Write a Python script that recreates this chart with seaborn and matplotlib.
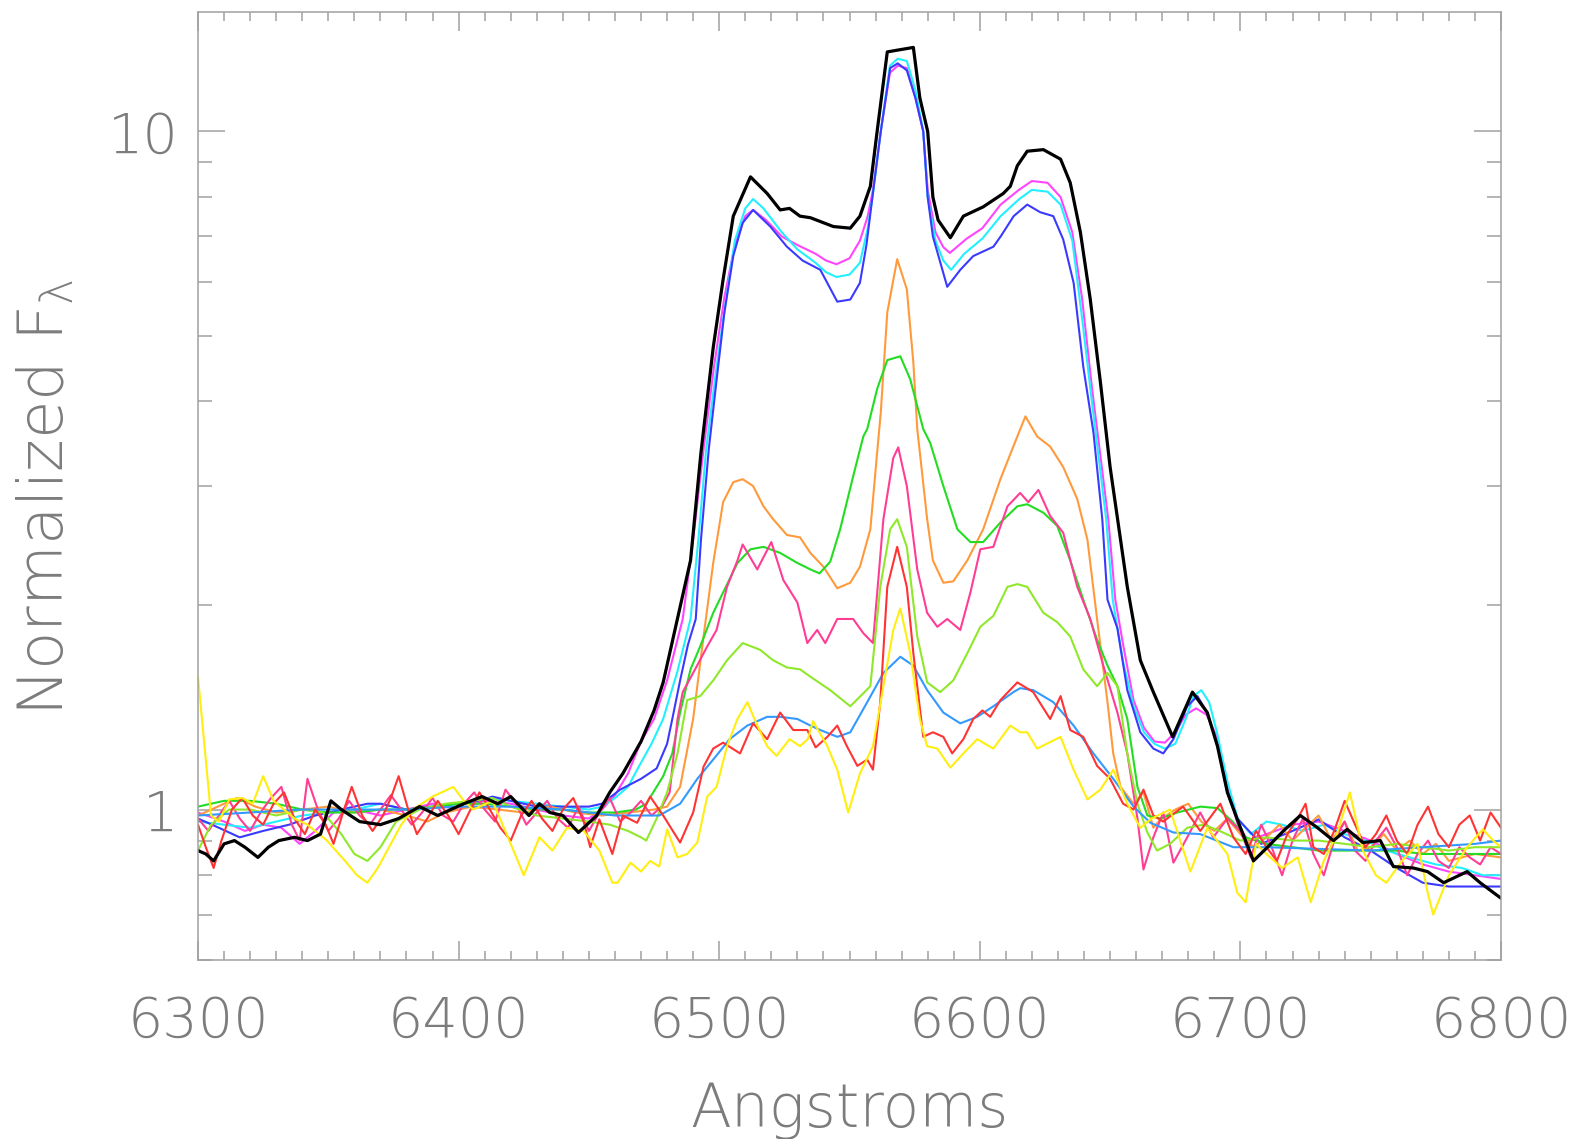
import matplotlib
matplotlib.use("Agg")
import matplotlib.pyplot as plt
import seaborn as sns
from matplotlib.ticker import FixedLocator, FixedFormatter, MultipleLocator, NullFormatter

# Normalized H-alpha region spectra: (wavelength [A], normalized flux)
black_pts = [(6300, 0.87), (6303, 0.86), (6306, 0.84), (6310, 0.89), (6314, 0.90), (6318, 0.88), (6323, 0.85),
             (6327, 0.88), (6331, 0.90), (6337, 0.91), (6342, 0.90), (6347, 0.92), (6351, 1.03), (6355, 1.00),
             (6362, 0.96), (6370, 0.95), (6377, 0.97), (6385, 1.01), (6392, 0.98), (6397, 1.00), (6402, 1.02),
             (6409, 1.045), (6415, 1.02), (6420, 1.045), (6427, 0.98), (6431, 1.02), (6435, 0.99), (6440, 0.98),
             (6446, 0.925), (6453, 0.98), (6458, 1.06), (6463, 1.13), (6470, 1.26), (6475, 1.40), (6478.5, 1.54),
             (6485, 1.99), (6489, 2.33), (6493, 3.36), (6497.7, 4.8), (6501.5, 6.05), (6505.4, 7.5), (6512, 8.57),
             (6518.4, 8.1), (6523.4, 7.66), (6527, 7.7), (6531, 7.5), (6535, 7.46), (6543.8, 7.24), (6550.3, 7.2),
             (6554, 7.5), (6558, 8.3), (6560.6, 10.0), (6564.5, 13.1), (6569.5, 13.2), (6574.5, 13.3), (6577, 11.2),
             (6580, 10.0), (6582, 8.0), (6584, 7.4), (6588.7, 6.97), (6593.7, 7.5), (6601.3, 7.74), (6609, 8.1),
             (6611.7, 8.3), (6614.4, 8.9), (6618.2, 9.35), (6624.4, 9.4), (6631, 9.1), (6634.7, 8.4), (6638.6, 7.1),
             (6642.4, 5.65), (6646.3, 4.26), (6650, 3.2), (6656.6, 2.13), (6661.6, 1.66), (6666.6, 1.49), (6674, 1.28),
             (6681.6, 1.49), (6687.3, 1.39), (6691.2, 1.24), (6695, 1.06), (6698.8, 0.967), (6705, 0.84),
             (6710.4, 0.88), (6716.5, 0.93), (6723, 0.98), (6729.6, 0.94), (6735.7, 0.90), (6741, 0.935),
             (6747, 0.894), (6753.7, 0.90), (6758.7, 0.824), (6766.4, 0.82), (6771.8, 0.81), (6778, 0.78),
             (6787, 0.81), (6792, 0.78), (6800, 0.74)]

magenta_pts = [(6300, 0.99), (6310, 0.96), (6318, 0.93), (6325, 0.95), (6332, 0.94), (6339, 0.89), (6345, 0.93),
               (6352, 0.99), (6360, 1.0), (6370, 0.98), (6380, 1.0), (6390, 1.02), (6400, 1.0), (6410, 1.03),
               (6420, 1.02), (6430, 1.0), (6440, 0.98), (6450, 0.97), (6455, 1.0), (6460, 1.05), (6465, 1.13),
               (6470, 1.26), (6475, 1.36), (6480, 1.55), (6486, 1.91), (6490, 2.5), (6494, 3.4), (6498, 4.5),
               (6502, 5.7), (6506, 6.8), (6510, 7.5), (6513, 7.66), (6518, 7.4), (6524, 7.0), (6530, 6.8),
               (6537, 6.6), (6541, 6.45), (6545, 6.37), (6550, 6.5), (6554, 6.9), (6557, 7.5), (6559, 8.2),
               (6562, 10.0), (6565.5, 12.2), (6568.5, 12.5), (6572, 12.4), (6575.3, 11.2), (6578.3, 10.0),
               (6580, 8.2), (6583, 7.1), (6586, 6.75), (6588.5, 6.62), (6595, 6.95), (6601, 7.2), (6608, 7.8),
               (6615, 8.2), (6620, 8.45), (6626, 8.4), (6631, 8.0), (6635.5, 7.1), (6639.3, 5.65), (6643, 4.2),
               (6649.3, 2.68), (6652, 2.04), (6655, 1.75), (6659, 1.45), (6663, 1.32), (6667, 1.26), (6671, 1.255),
               (6675, 1.3), (6679, 1.38), (6683, 1.41), (6687, 1.38), (6691, 1.28), (6695, 1.08), (6699, 0.95),
               (6703, 0.9), (6710, 0.92), (6720, 0.95), (6730, 0.96), (6740, 0.93), (6750, 0.9), (6760, 0.86),
               (6770, 0.83), (6780, 0.81), (6790, 0.80), (6800, 0.79)]

cyan_pts = [(6300, 0.96), (6310, 0.95), (6320, 0.94), (6330, 0.96), (6340, 0.98), (6350, 0.99), (6360, 1.0),
            (6370, 1.02), (6380, 1.0), (6390, 1.01), (6400, 1.02), (6410, 1.04), (6420, 1.03), (6430, 1.02),
            (6440, 1.01), (6450, 1.0), (6455, 1.01), (6460, 1.04), (6465, 1.08), (6468.5, 1.145), (6474, 1.25),
            (6478.5, 1.36), (6484, 1.6), (6489, 1.91), (6492, 2.5), (6495, 3.4), (6499, 4.5), (6502.5, 5.6),
            (6506, 6.9), (6510, 7.7), (6513, 7.95), (6517, 7.7), (6524, 7.1), (6530, 6.7), (6537, 6.4),
            (6541, 6.2), (6545, 6.1), (6550, 6.15), (6554, 6.4), (6557, 7.2), (6559, 8.1), (6562, 10.0),
            (6565.5, 12.5), (6568.5, 12.8), (6572, 12.7), (6575.3, 11.5), (6578.3, 10.0), (6580, 8.0), (6583, 6.9),
            (6586, 6.45), (6589, 6.25), (6594, 6.6), (6601, 6.95), (6608, 7.5), (6615, 7.94), (6620, 8.2),
            (6626, 8.15), (6631, 7.8), (6635.5, 6.9), (6639, 5.4), (6643, 4.0), (6648.5, 2.68), (6651, 2.04),
            (6655, 1.65), (6659, 1.42), (6663, 1.3), (6667, 1.25), (6671, 1.23), (6675, 1.25), (6679, 1.36),
            (6682, 1.47), (6685, 1.5), (6688, 1.44), (6691, 1.3), (6695, 1.1), (6699, 0.97), (6704, 0.92),
            (6710, 0.96), (6716, 0.95), (6724, 0.93), (6732, 0.95), (6740, 0.92), (6748, 0.9), (6756, 0.87),
            (6765, 0.85), (6775, 0.83), (6785, 0.82), (6793, 0.80), (6800, 0.80)]

blue_pts = [(6300, 0.97), (6308, 0.94), (6316, 0.91), (6325, 0.93), (6335, 0.95), (6345, 0.98), (6355, 1.0),
            (6365, 1.02), (6370, 1.02), (6380, 1.0), (6390, 1.01), (6400, 1.02), (6408, 1.03), (6413, 1.045),
            (6420, 1.03), (6430, 1.01), (6440, 1.01), (6450, 1.01), (6455, 1.02), (6462, 1.07), (6470, 1.11),
            (6476, 1.15), (6480, 1.25), (6482, 1.36), (6485, 1.55), (6488, 1.75), (6491, 1.91), (6493, 2.5),
            (6496, 3.4), (6499, 4.3), (6502, 5.41), (6505.4, 6.55), (6509, 7.33), (6513, 7.66), (6519.6, 7.24),
            (6526, 6.76), (6532, 6.45), (6538.8, 6.25), (6545.3, 5.61), (6550.3, 5.65), (6554, 5.98),
            (6556.5, 6.8), (6558.8, 8.0), (6562, 10.0), (6565.6, 12.4), (6568.5, 12.6), (6572, 12.3),
            (6575.3, 11.2), (6578.3, 10.0), (6580, 8.0), (6582, 7.0), (6587.5, 5.9), (6592.5, 6.25),
            (6597.5, 6.55), (6605.2, 6.76), (6608, 7.0), (6613, 7.5), (6618.2, 7.8), (6623.2, 7.6), (6628.2, 7.5),
            (6632, 6.93), (6636, 5.98), (6639.7, 4.5), (6643.6, 3.6), (6647, 2.68), (6649, 2.04), (6652.8, 1.85),
            (6656.6, 1.5), (6661.6, 1.30), (6666.6, 1.23), (6670.4, 1.21), (6674.3, 1.27), (6679.6, 1.42),
            (6683.5, 1.47), (6687.3, 1.39), (6691.2, 1.24), (6695, 1.06), (6698.8, 0.97), (6708, 0.89),
            (6720, 0.93), (6730, 0.967), (6740, 0.91), (6750, 0.87), (6760, 0.82), (6770, 0.78), (6780, 0.77),
            (6790, 0.77), (6800, 0.77)]

orange_pts = [(6300, 0.98), (6310, 1.02), (6315, 1.04), (6322, 1.01), (6330, 0.99), (6340, 1.0), (6350, 1.01),
              (6360, 0.99), (6370, 1.0), (6380, 0.98), (6388, 0.96), (6395, 0.99), (6405, 1.01), (6415, 1.0),
              (6425, 0.99), (6435, 1.01), (6445, 0.99), (6455, 0.98), (6465, 0.99), (6475, 1.0), (6480, 1.01),
              (6485, 1.08), (6490, 1.36), (6494, 1.8), (6497.7, 2.31), (6501.5, 2.84), (6505.4, 3.04),
              (6509, 3.07), (6513, 3.0), (6517, 2.8), (6520.7, 2.68), (6526, 2.54), (6531, 2.52), (6535, 2.39),
              (6540, 2.28), (6545.3, 2.12), (6550.3, 2.16), (6554, 2.28), (6558, 2.59), (6560.6, 3.36),
              (6562, 3.85), (6564.5, 5.41), (6568.3, 6.48), (6572, 5.85), (6574.5, 4.56), (6576, 3.64),
              (6577, 3.36), (6579.8, 2.68), (6582, 2.33), (6586, 2.16), (6589.8, 2.17), (6595.2, 2.33),
              (6601.3, 2.59), (6607.9, 3.07), (6614.4, 3.55), (6617.5, 3.8), (6622, 3.55), (6627, 3.43),
              (6632, 3.2), (6637.4, 2.87), (6641.3, 2.5), (6645, 1.91), (6649, 1.44), (6651.2, 1.21),
              (6654, 1.08), (6659, 1.02), (6662.8, 1.06), (6666.6, 0.94), (6669.3, 0.967), (6675, 1.0),
              (6680, 1.02), (6685, 0.96), (6690, 0.93), (6695, 0.97), (6700, 0.92), (6705, 0.88), (6710, 0.91),
              (6715, 0.95), (6720, 0.90), (6725, 0.94), (6730, 0.98), (6735, 0.90), (6740, 0.96), (6745, 0.87),
              (6750, 0.88), (6755, 0.92), (6760, 0.87), (6765, 0.9), (6770, 0.86), (6775, 0.89), (6780, 0.84),
              (6790, 0.86), (6800, 0.85)]

green_pts = [(6300, 1.01), (6310, 1.03), (6320, 1.03), (6330, 1.02), (6340, 1.0), (6350, 0.99), (6360, 0.99),
             (6370, 1.0), (6380, 1.0), (6390, 1.01), (6400, 1.02), (6410, 1.02), (6420, 1.01), (6430, 1.0),
             (6440, 1.0), (6450, 0.99), (6460, 0.99), (6468, 1.0), (6472, 1.02), (6478.5, 1.12), (6482, 1.21),
             (6485, 1.39), (6489, 1.61), (6492.7, 1.74), (6497.7, 1.95), (6501.5, 2.09), (6507, 2.31),
             (6512, 2.42), (6517, 2.44), (6523.4, 2.39), (6530, 2.31), (6535, 2.26), (6538.5, 2.23),
             (6542.6, 2.32), (6546.4, 2.59), (6551.4, 3.1), (6555.3, 3.55), (6556.8, 3.64), (6560.6, 4.17),
             (6564.5, 4.6), (6569.5, 4.66), (6573.3, 4.31), (6578.3, 3.64), (6581, 3.47), (6586, 3.0),
             (6591.4, 2.59), (6596.4, 2.48), (6601.3, 2.48), (6607.9, 2.65), (6614.4, 2.8), (6618.2, 2.82),
             (6624.4, 2.74), (6629.7, 2.62), (6634.7, 2.33), (6639.7, 2.04), (6645, 1.78), (6649, 1.63),
             (6652.8, 1.52), (6656.6, 1.36), (6660.5, 1.08), (6664.3, 0.98), (6669.3, 0.97), (6675.8, 0.99),
             (6684.6, 1.01), (6691.2, 1.005), (6697, 0.96), (6702, 0.91), (6710, 0.89), (6720, 0.88),
             (6730, 0.87), (6740, 0.87), (6750, 0.87), (6760, 0.87), (6770, 0.86), (6780, 0.86), (6790, 0.86),
             (6800, 0.86)]

pink_pts = [(6300, 0.97), (6304, 0.93), (6308, 0.98), (6312, 1.03), (6316, 0.97), (6320, 0.93), (6324, 0.99),
            (6328, 1.04), (6332, 1.08), (6336, 0.95), (6339, 0.90), (6342, 1.11), (6346, 1.0), (6350, 0.93),
            (6354, 0.97), (6358, 1.03), (6362, 0.98), (6366, 0.95), (6370, 1.0), (6374, 1.05), (6378, 1.0),
            (6382, 0.95), (6386, 0.99), (6390, 1.04), (6394, 0.98), (6398, 0.96), (6402, 1.02), (6406, 1.06),
            (6410, 1.0), (6414, 0.96), (6418, 1.07), (6422, 1.02), (6426, 0.95), (6430, 0.99), (6434, 1.03),
            (6438, 0.97), (6442, 0.94), (6446, 1.01), (6450, 0.93), (6454, 0.99), (6458, 1.04), (6462, 0.96),
            (6466, 0.99), (6470, 1.03), (6474, 0.98), (6478, 1.01), (6481, 1.06), (6484, 1.36), (6486, 1.49),
            (6490, 1.59), (6495.4, 1.74), (6499, 1.84), (6503, 2.13), (6507, 2.33), (6509, 2.46), (6514.6, 2.26),
            (6520, 2.48), (6524.6, 2.18), (6530, 2.02), (6533.8, 1.76), (6537.6, 1.84), (6540.7, 1.76),
            (6545.3, 1.91), (6551.4, 1.91), (6555.3, 1.82), (6559, 1.76), (6563, 2.68), (6566.8, 3.3),
            (6568.7, 3.42), (6572, 3.0), (6576, 2.26), (6579.8, 1.95), (6583.7, 1.86), (6587.5, 1.91),
            (6592.5, 1.84), (6596.4, 2.09), (6600.2, 2.42), (6605.2, 2.44), (6610.6, 2.8), (6615.5, 2.93),
            (6618.6, 2.84), (6622.5, 2.96), (6627, 2.71), (6632, 2.56), (6637.4, 2.13), (6642.4, 1.91),
            (6647.4, 1.63), (6652.8, 1.39), (6656.6, 1.21), (6660.5, 0.97), (6662.8, 0.816), (6666.6, 0.91),
            (6670.4, 0.99), (6674.3, 0.835), (6679.6, 0.91), (6684.6, 0.99), (6689.6, 0.91), (6695, 0.97),
            (6700, 0.93), (6704, 0.85), (6708, 0.95), (6712, 0.88), (6716, 0.8), (6720, 0.9), (6724, 0.97),
            (6728, 0.86), (6732, 0.8), (6736, 0.9), (6740, 0.96), (6744, 0.87), (6748, 0.84), (6752, 0.9),
            (6756, 0.94), (6760, 0.88), (6764, 0.8), (6768, 0.86), (6772, 0.9), (6776, 0.84), (6780, 0.82),
            (6784, 0.88), (6788, 0.85), (6792, 0.83), (6796, 0.88), (6800, 0.86)]

chartreuse_pts = [(6300, 0.87), (6305, 0.95), (6312, 1.0), (6320, 1.0), (6330, 0.98), (6340, 1.0), (6348, 0.99),
                  (6355, 0.92), (6360, 0.86), (6365, 0.84), (6370, 0.88), (6376, 0.96), (6385, 1.0), (6395, 1.02),
                  (6405, 1.03), (6413, 1.04), (6420, 1.01), (6430, 0.98), (6440, 0.97), (6450, 0.96),
                  (6458, 0.95), (6465, 0.93), (6470, 0.91), (6472, 0.9), (6476, 0.97), (6480, 1.06), (6484, 1.21),
                  (6487.7, 1.45), (6492.7, 1.47), (6497.7, 1.55), (6503, 1.66), (6509, 1.76), (6515.7, 1.72),
                  (6520.7, 1.66), (6526, 1.62), (6531, 1.61), (6535, 1.57), (6542.6, 1.50), (6550.3, 1.42),
                  (6558, 1.52), (6561.8, 2.13), (6565.6, 2.59), (6568.3, 2.68), (6572, 2.44), (6576, 1.8),
                  (6579.8, 1.54), (6584.8, 1.49), (6589.8, 1.55), (6595.2, 1.70), (6600.2, 1.86), (6605.2, 1.93),
                  (6610.6, 2.13), (6614.4, 2.15), (6618.2, 2.13), (6624.4, 1.95), (6629.7, 1.89), (6634.7, 1.8),
                  (6639.7, 1.61), (6645, 1.52), (6649, 1.59), (6652.8, 1.52), (6656.6, 1.21), (6660.5, 1.02),
                  (6664.3, 0.925), (6668, 0.87), (6673, 0.89), (6679.6, 0.94), (6686, 0.95), (6692, 0.93),
                  (6700, 0.9), (6710, 0.91), (6720, 0.90), (6730, 0.9), (6740, 0.89), (6750, 0.88), (6760, 0.89),
                  (6770, 0.88), (6780, 0.87), (6790, 0.88), (6800, 0.88)]

skyblue_pts = [(6300, 0.98), (6320, 0.99), (6340, 1.0), (6360, 1.0), (6380, 1.0), (6400, 1.01), (6420, 1.01),
               (6440, 1.0), (6460, 0.98), (6477, 0.98), (6485, 1.02), (6491.6, 1.11), (6497.7, 1.185),
               (6504, 1.27), (6510.8, 1.33), (6518.4, 1.37), (6523.4, 1.37), (6530, 1.36), (6535, 1.33),
               (6538.8, 1.31), (6545.3, 1.28), (6550.3, 1.30), (6556.8, 1.44), (6563, 1.59), (6569.5, 1.68),
               (6574.5, 1.63), (6579.8, 1.50), (6586, 1.39), (6592.5, 1.34), (6599, 1.37), (6605.2, 1.42),
               (6612.9, 1.49), (6615.5, 1.51), (6620.5, 1.50), (6628.2, 1.44), (6636, 1.33), (6643.6, 1.21),
               (6651.2, 1.11), (6659, 1.01), (6665.5, 0.956), (6674.3, 0.925), (6684.6, 0.92), (6697.3, 0.88),
               (6710, 0.88), (6730, 0.875), (6750, 0.87), (6770, 0.88), (6790, 0.89), (6800, 0.9)]

red_pts = [(6300, 0.95), (6303, 0.88), (6306, 0.82), (6309, 0.9), (6313, 1.0), (6317, 1.04), (6321, 0.98),
           (6325, 0.95), (6329, 1.02), (6333, 1.06), (6337, 0.97), (6341, 0.92), (6345, 1.0), (6349, 0.95),
           (6352, 0.89), (6356, 1.0), (6359, 1.08), (6363, 0.98), (6367, 0.93), (6371, 0.98), (6374, 1.04),
           (6377, 1.12), (6381, 0.99), (6384, 0.92), (6388, 0.97), (6392, 1.03), (6396, 0.98), (6400, 0.92),
           (6404, 0.99), (6408, 1.06), (6412, 1.0), (6416, 0.94), (6420, 0.9), (6424, 0.98), (6428, 1.03),
           (6432, 0.97), (6436, 0.93), (6440, 1.0), (6444, 1.04), (6448, 0.96), (6450.5, 0.88), (6454, 0.967),
           (6459, 0.86), (6463, 0.98), (6468.5, 0.956), (6473.5, 1.045), (6478.5, 0.98), (6485, 0.894),
           (6490, 0.99), (6494, 1.157), (6497.7, 1.23), (6501.5, 1.255), (6508, 1.21), (6513, 1.34),
           (6518.4, 1.27), (6523.4, 1.39), (6528.4, 1.31), (6533.8, 1.31), (6537, 1.235), (6541.5, 1.28),
           (6545.3, 1.33), (6549, 1.24), (6553, 1.16), (6556.8, 1.185), (6559, 1.145), (6561.8, 1.44),
           (6564.5, 2.13), (6568.3, 2.44), (6572, 2.13), (6574.5, 1.70), (6578.3, 1.28), (6582, 1.30),
           (6586, 1.28), (6589.4, 1.21), (6593.7, 1.27), (6597.5, 1.36), (6601, 1.40), (6604, 1.37),
           (6607.9, 1.45), (6614.4, 1.54), (6620.5, 1.49), (6627, 1.36), (6631, 1.47), (6634.7, 1.31),
           (6639.7, 1.28), (6645, 1.16), (6650, 1.11), (6655, 1.02), (6659, 1.0), (6662.8, 1.07),
           (6666.6, 0.98), (6670.4, 0.96), (6678, 1.01), (6684.6, 0.93), (6692.3, 1.02), (6697.3, 0.91),
           (6702, 0.86), (6706, 0.93), (6710, 0.88), (6714, 0.84), (6718, 0.92), (6722, 0.97), (6725, 1.02),
           (6728, 0.88), (6732, 0.86), (6736, 0.93), (6740, 1.03), (6744, 0.95), (6748, 0.88), (6752, 0.92),
           (6756, 0.98), (6760, 0.9), (6764, 0.86), (6768, 0.95), (6772, 1.01), (6776, 0.92), (6780, 0.88),
           (6784, 0.95), (6788, 0.98), (6792, 0.9), (6796, 0.99), (6800, 0.94)]

yellow_pts = [(6300, 1.57), (6302, 1.3), (6305, 0.98), (6308, 0.96), (6312, 1.035), (6317, 1.04), (6321, 1.02),
              (6325, 1.12), (6329, 1.03), (6333, 1.0), (6337, 0.97), (6342, 0.95), (6349.5, 0.90), (6357, 0.835),
              (6361, 0.8), (6365, 0.78), (6369, 0.82), (6372.6, 0.87), (6378, 0.95), (6382.5, 1.0),
              (6390, 1.045), (6398, 1.08), (6402, 1.03), (6405.6, 1.0), (6413, 1.03), (6420, 0.89), (6425, 0.80),
              (6431, 0.91), (6436, 0.87), (6441.6, 0.94), (6448, 0.93), (6454, 0.87), (6459, 0.78), (6461, 0.78),
              (6466, 0.835), (6470, 0.81), (6473.5, 0.84), (6477, 0.824), (6480, 0.935), (6484, 0.85),
              (6487.7, 0.86), (6491.6, 0.894), (6495.4, 1.045), (6499, 1.08), (6503, 1.24), (6507, 1.36),
              (6510.8, 1.44), (6514.6, 1.33), (6518.4, 1.24), (6522, 1.2), (6527, 1.27), (6531, 1.24),
              (6534, 1.27), (6536, 1.35), (6541.5, 1.24), (6545.3, 1.145), (6549.5, 0.99), (6554, 1.13),
              (6559, 1.24), (6563, 1.52), (6566.8, 1.84), (6569.5, 1.98), (6573.3, 1.70), (6577, 1.36),
              (6579.8, 1.24), (6583.7, 1.23), (6588.7, 1.153), (6593.7, 1.21), (6599, 1.27), (6605.2, 1.23),
              (6611.7, 1.33), (6615.5, 1.30), (6618.2, 1.30), (6622, 1.23), (6631, 1.28), (6636, 1.145),
              (6641.3, 1.035), (6646.3, 1.07), (6651.2, 1.145), (6656.6, 1.02), (6661.6, 0.94), (6666, 0.97),
              (6673, 1.0), (6680.8, 0.81), (6687.3, 0.94), (6695, 0.86), (6698.8, 0.754), (6702, 0.73),
              (6706, 0.89), (6710, 0.86), (6716, 0.82), (6722, 0.85), (6727, 0.73), (6732, 0.84), (6737, 0.92),
              (6742, 1.06), (6747, 0.87), (6752, 0.8), (6756, 0.78), (6762, 0.84), (6768, 0.89), (6772, 0.75),
              (6774, 0.70), (6780, 0.80), (6787, 0.88), (6793, 0.935), (6797, 0.9), (6800, 0.88)]

x_ticks = [6300, 6400, 6500, 6600, 6700, 6800]
y_major = [1, 10]
y_minor = [0.6, 0.7, 0.8, 0.9, 2, 3, 4, 5, 6, 7, 8, 9]

series = [
    (magenta_pts, "#ff44ff", 1.5),
    (cyan_pts, "#22f0ff", 1.5),
    (blue_pts, "#3a3aff", 1.5),
    (orange_pts, "#ff9a3c", 1.5),
    (green_pts, "#22dd22", 1.5),
    (pink_pts, "#ff3d94", 1.5),
    (chartreuse_pts, "#8fe82a", 1.5),
    (skyblue_pts, "#3399ff", 1.5),
    (red_pts, "#ff3333", 1.5),
    (yellow_pts, "#ffee10", 1.5),
    (black_pts, "#000000", 2.3),
]

sns.set_theme(style="ticks")
plt.rcParams["font.family"] = ["DejaVu Sans"]
plt.rcParams["font.weight"] = "light"
plt.rcParams["mathtext.fontset"] = "custom"
plt.rcParams["mathtext.rm"] = "DejaVu Sans:light"
plt.rcParams["mathtext.it"] = "DejaVu Sans:light"

grey = "#a0a0a0"
text_grey = "#7c7c7c"

fig = plt.figure(figsize=(15.81, 11.39), dpi=100)
fig.patch.set_facecolor("white")
ax = fig.add_axes([0.12524, 0.15716, 0.82416, 0.8323])
ax.set_facecolor("white")

for pts, color, lw in series:
    wl = [p[0] for p in pts]
    fx = [p[1] for p in pts]
    sns.lineplot(x=wl, y=fx, ax=ax, color=color, linewidth=lw, sort=False, estimator=None)

ax.set_yscale("log")
ax.set_xlim(6300, 6800)
ax.set_ylim(0.6, 15)

ax.xaxis.set_major_locator(FixedLocator(x_ticks))
ax.xaxis.set_major_formatter(FixedFormatter([str(t) for t in x_ticks]))
ax.xaxis.set_minor_locator(MultipleLocator(10))
ax.yaxis.set_major_locator(FixedLocator(y_major))
ax.yaxis.set_major_formatter(FixedFormatter([str(t) for t in y_major]))
ax.yaxis.set_minor_locator(FixedLocator(y_minor))
ax.yaxis.set_minor_formatter(NullFormatter())

ax.tick_params(axis="both", which="both", direction="in", top=True, right=True, bottom=True, left=True,
               color=grey, width=1.1, labelcolor=text_grey, labelsize=40)
ax.tick_params(axis="x", which="major", length=14, pad=25)
ax.tick_params(axis="x", which="minor", length=6.5)
ax.tick_params(axis="y", which="major", length=19.5, pad=14)
ax.tick_params(axis="y", which="minor", length=10)

for side in ["left", "right", "top", "bottom"]:
    ax.spines[side].set_color(grey)
    ax.spines[side].set_linewidth(1.1)
    ax.spines[side].set_visible(True)

ax.set_xlabel("")
ax.set_ylabel("")
ax.text(0.5, -0.159, "Angstroms", transform=ax.transAxes, ha="center", va="center",
        fontsize=43, color=text_grey)
ax.text(-0.1167, 0.488, r"Normalized F$_{\mathrm{\lambda}}$", transform=ax.transAxes, ha="center", va="center",
        rotation=90, fontsize=45, color=text_grey)

fig.savefig("out.png", dpi=100, facecolor="white")
